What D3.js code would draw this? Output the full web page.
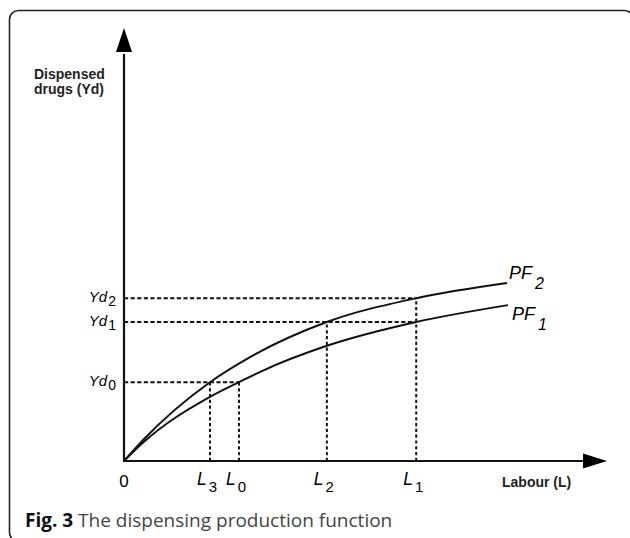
<!DOCTYPE html>
<html>
<head>
<meta charset="utf-8">
<script src="https://cdn.jsdelivr.net/npm/d3@7"></script>
<style>
  html, body { margin: 0; padding: 0; background: #fff; }
  svg { display: block; }
</style>
</head>
<body>
<div id="chart"></div>
<script>
// ---- Data (labour units on x, dispensed-drug units on y) ----
const pf2X = [0, 0.39, 1.78, 2.61, 4.20, 6.05, 7.93];
const pf2Y = [0, 0.48, 1.82, 2.40, 3.21, 3.76, 4.11];
const pf1X = [0, 0.39, 1.78, 2.38, 2.82, 4.20, 6.05, 7.95];
const pf1Y = [0, 0.42, 1.48, 1.82, 2.06, 2.66, 3.21, 3.60];
const curveNames = ["PF", "PF"];
const curveSubs = ["2", "1"];

const lNames = ["L", "L", "L", "L"];
const lSubs = ["3", "0", "2", "1"];
const lValues = [1.78, 2.38, 4.20, 6.05];
const lTops = [1.82, 1.82, 3.21, 3.76];      // height the dotted vertical reaches

const ydNames = ["Yd", "Yd", "Yd"];
const ydSubs = ["0", "1", "2"];
const ydValues = [1.82, 3.21, 3.76];
const ydEnds = [2.38, 6.05, 6.05];           // labour value the dotted horizontal reaches

const originLabel = "0";
const yTitle = ["Dispensed", "drugs (Yd)"];
const xTitle = "Labour (L)";
const captionBold = "Fig. 3";
const captionText = " The dispensing production function";

// ---- Layout ----
const W = 630, H = 538;
const svg = d3.select("#chart").append("svg").attr("width", W).attr("height", H);

const x = d3.scaleLinear().domain([0, 10]).range([124, 607]);
const y = d3.scaleLinear().domain([0, 10]).range([461, 28]);

// frame
svg.append("rect")
  .attr("x", 9.5).attr("y", 10.5).attr("width", 624).attr("height", 531)
  .attr("rx", 9).attr("fill", "none").attr("stroke", "#222").attr("stroke-width", 1.6);

// dotted guides
const dashH = "4.2,2.4", dashV = "3.2,2.6";
svg.append("g").selectAll("line").data(ydValues).join("line")
  .attr("x1", x(0)).attr("x2", (d, i) => x(ydEnds[i]))
  .attr("y1", d => y(d)).attr("y2", d => y(d))
  .attr("stroke", "#111").attr("stroke-width", 2).attr("stroke-dasharray", dashH);
svg.append("g").selectAll("line").data(lValues).join("line")
  .attr("x1", d => x(d)).attr("x2", d => x(d))
  .attr("y1", y(0)).attr("y2", (d, i) => y(lTops[i]))
  .attr("stroke", "#111").attr("stroke-width", 2).attr("stroke-dasharray", dashV);

// curves
const line = d3.line().x(d => x(d[0])).y(d => y(d[1])).curve(d3.curveMonotoneX);
const curves = [d3.zip(pf2X, pf2Y), d3.zip(pf1X, pf1Y)];
svg.append("g").selectAll("path").data(curves).join("path")
  .attr("d", line).attr("fill", "none").attr("stroke", "#111").attr("stroke-width", 2);

// axes
svg.append("line").attr("x1", x(0)).attr("x2", x(0)).attr("y1", y(0) + 1).attr("y2", y(9.4))
  .attr("stroke", "#111").attr("stroke-width", 2.2);
svg.append("line").attr("x1", x(0) - 1).attr("x2", x(9.5)).attr("y1", y(0)).attr("y2", y(0))
  .attr("stroke", "#111").attr("stroke-width", 2.2);
svg.append("path")
  .attr("d", `M${x(0)},${y(10)} L${x(0) - 8},${y(10) + 24} L${x(0) + 8},${y(10) + 24} Z`)
  .attr("fill", "#000");
svg.append("path")
  .attr("d", `M${x(10)},${y(0)} L${x(10) - 24},${y(0) - 7.5} L${x(10) - 24},${y(0) + 7.5} Z`)
  .attr("fill", "#000");

const labelFont = "'Liberation Sans', Arial, sans-serif";

// Yd labels
ydValues.forEach((v, i) => {
  const t = svg.append("text").attr("x", 116).attr("y", y(v) + 4)
    .attr("text-anchor", "end").attr("font-family", labelFont).attr("fill", "#000");
  t.append("tspan").attr("font-size", 15).attr("font-style", "italic").text(ydNames[i]);
  t.append("tspan").attr("font-size", 14).attr("dx", 1).attr("dy", 4).text(ydSubs[i]);
});

// L labels
lValues.forEach((v, i) => {
  const t = svg.append("text").attr("x", x(v) - 13).attr("y", 485)
    .attr("font-family", labelFont).attr("fill", "#000");
  t.append("tspan").attr("font-size", 17.5).attr("font-style", "italic").text(lNames[i]);
  t.append("tspan").attr("font-size", 15).attr("dx", 2).attr("dy", 7).text(lSubs[i]);
});

// PF labels
const pfLabelPos = [[509, 279], [512, 320]];
curveNames.forEach((n, i) => {
  const t = svg.append("text").attr("x", pfLabelPos[i][0]).attr("y", pfLabelPos[i][1])
    .attr("font-family", labelFont).attr("fill", "#000").attr("font-style", "italic");
  t.append("tspan").attr("font-size", 18).text(n);
  t.append("tspan").attr("font-size", 16).attr("dx", 3).attr("dy", 10).text(curveSubs[i]);
});

// origin
svg.append("text").attr("x", x(0)).attr("y", 487).attr("text-anchor", "middle")
  .attr("font-family", labelFont).attr("font-size", 17).attr("fill", "#000").text(originLabel);

// axis titles
svg.append("g").selectAll("text").data(yTitle).join("text")
  .attr("x", 34).attr("y", (d, i) => 79 + i * 15)
  .attr("font-family", labelFont).attr("font-weight", "bold").attr("font-size", 14)
  .attr("fill", "#222").text(d => d);
svg.append("text").attr("x", 502).attr("y", 487)
  .attr("font-family", labelFont).attr("font-weight", "bold").attr("font-size", 14)
  .attr("fill", "#222").text(xTitle);

// caption
const cap = svg.append("text").attr("x", 25).attr("y", 527)
  .attr("font-family", "'Open Sans', sans-serif").attr("font-size", 19);
cap.append("tspan").attr("font-weight", "bold").attr("fill", "#111").text(captionBold);
cap.append("tspan").attr("fill", "#444").text(captionText);
</script>
</body>
</html>
